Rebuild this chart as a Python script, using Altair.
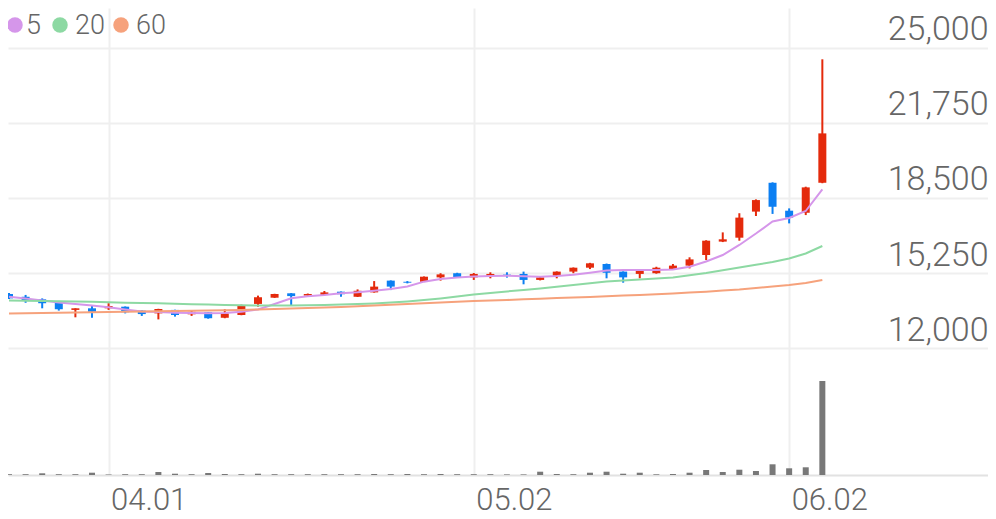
import altair as alt
import pandas as pd

# ---- data ----
opens = [14340, 14220, 14110, 14010, 13650, 13720, 13720, 13790, 13620, 13500,
         13650, 13460, 13550, 13310, 13430, 13910, 14180, 14370, 14270, 14300,
         14440, 14220, 14410, 14920, 14870, 14870, 15060, 15240, 15060, 15120,
         15180, 15210, 14950, 15130, 15310, 15480, 15640, 15310, 15210, 15240,
         15420, 15570, 16030, 16610, 16780, 17910, 19160, 17950, 17860, 19160]
highs = [14380, 14300, 14150, 14040, 13720, 13820, 13940, 13800, 13630, 13700,
         13660, 13620, 13560, 13680, 13880, 14270, 14350, 14380, 14360, 14470,
         14450, 14540, 14900, 14930, 14900, 15100, 15240, 15260, 15250, 15280,
         15280, 15310, 15080, 15320, 15490, 15690, 15660, 15320, 15400, 15520,
         15640, 15930, 16670, 17010, 17840, 18440, 19180, 18050, 18990, 24510]
lows = [14120, 13960, 13720, 13620, 13330, 13310, 13650, 13500, 13390, 13240,
        13360, 13390, 13270, 13290, 13420, 13790, 14170, 13860, 14250, 14290,
        14220, 14210, 14400, 14510, 14800, 14860, 14920, 15050, 14950, 15020,
        15050, 14760, 14930, 15020, 15240, 15420, 15020, 14830, 15020, 15220,
        15410, 15450, 15810, 16590, 16650, 17720, 17810, 17400, 17760, 19140]
closes = [14150, 14080, 13940, 13680, 13720, 13570, 13820, 13550, 13470, 13690,
          13430, 13570, 13290, 13500, 13860, 14200, 14340, 14250, 14340, 14410,
          14330, 14480, 14660, 14660, 14830, 15090, 15190, 15060, 15210, 15210,
          15150, 14950, 15060, 15310, 15480, 15670, 15260, 15060, 15380, 15480,
          15570, 15840, 16650, 16710, 17650, 18410, 18120, 17650, 18960, 21300]
volumes = [80, 80, 170, 80, 80, 230, 50, 80, 80, 300,
           130, 80, 200, 100, 80, 130, 80, 80, 80, 80,
           80, 80, 100, 80, 100, 80, 100, 80, 80, 80,
           60, 60, 330, 100, 80, 230, 330, 130, 230, 70,
           100, 230, 500, 300, 530, 400, 1070, 670, 770, 9400]
ma5 = [14220, 14145, 14060, 13970, 13905, 13840, 13765, 13670, 13580, 13560,
       13530, 13515, 13505, 13515, 13575, 13670, 13905, 14155, 14240, 14295,
       14370, 14415, 14485, 14555, 14665, 14875, 14990, 15055, 15100, 15120,
       15135, 15105, 15090, 15120, 15175, 15265, 15360, 15380, 15380, 15380,
       15400, 15525, 15750, 16030, 16465, 16960, 17480, 17635, 17935, 18870]
ma20 = [14060, 14050, 14035, 14025, 14015, 14000, 13980, 13965, 13950, 13935,
        13920, 13900, 13885, 13865, 13850, 13840, 13840, 13845, 13850, 13865,
        13885, 13905, 13930, 13970, 14015, 14075, 14145, 14230, 14320, 14385,
        14450, 14515, 14580, 14655, 14730, 14805, 14880, 14925, 14970, 15010,
        15055, 15150, 15250, 15370, 15490, 15610, 15725, 15880, 16095, 16420]
ma60 = [13495, 13505, 13515, 13530, 13540, 13550, 13560, 13570, 13580, 13595,
        13605, 13615, 13625, 13635, 13645, 13670, 13690, 13710, 13735, 13755,
        13775, 13805, 13840, 13870, 13905, 13935, 13970, 14000, 14035, 14060,
        14080, 14110, 14135, 14165, 14190, 14215, 14240, 14270, 14295, 14330,
        14360, 14400, 14440, 14490, 14535, 14600, 14665, 14730, 14815, 14945]
ma_names = ["5", "20", "60"]
ma_colors = ["#d596ea", "#8dd9a3", "#f6a27c"]
tick_idx = [6, 28, 47]
tick_labels = ["04.01", "05.02", "06.02"]
y_ticks = [12000, 15250, 18500, 21750, 25000]

RED = "#e42a0c"
BLUE = "#0c7ff2"
VOL = "#787878"
GRID = "#efefef"
TXT = "#666666"

n = len(closes)
df = pd.DataFrame({"i": list(range(n)), "open": opens, "high": highs,
                   "low": lows, "close": closes, "volume": volumes})
ma_df = pd.concat([
    pd.DataFrame({"i": list(range(n)), "ma": name, "value": vals})
    for name, vals in zip(ma_names, [ma5, ma20, ma60])
], ignore_index=True)

label_expr = " : ".join(
    f"datum.value == {v} ? '{t}'" for v, t in zip(tick_idx, tick_labels)
) + " : ''"

x_enc = alt.X(
    "i:Q",
    scale=alt.Scale(domain=[-0.06, 58.98], nice=False, zero=False, padding=0),
    axis=alt.Axis(values=tick_idx, labelExpr=label_expr, grid=True,
                  gridColor=GRID, gridWidth=2, ticks=False,
                  domainColor="#e2e2e2", domainWidth=2,
                  labelAlign="left", labelBaseline="top", labelPadding=10,
                  labelOffset=2, labelFontSize=31, labelColor=TXT,
                  labelFont="Roboto", labelFontWeight=300, labelFlush=False,
                  labelOverlap=False, title=None),
)

price_scale = alt.Scale(domain=[6497, 26733], nice=False, zero=False)
y_axis = alt.Axis(orient="right", values=y_ticks, format=",d", grid=True,
                  gridColor=GRID, gridWidth=2, ticks=False, domain=False,
                  labelAlign="right", labelBaseline="alphabetic",
                  labelPadding=0, labelOffset=-8, labelFontSize=34,
                  labelColor=TXT, labelFont="Roboto", labelFontWeight=300,
                  title=None)

candle_color = alt.condition("datum.close >= datum.open",
                             alt.value(RED), alt.value(BLUE))

base = alt.Chart(df).encode(x=x_enc)

wick = base.mark_rule(strokeWidth=2).encode(
    y=alt.Y("low:Q", scale=price_scale, axis=y_axis),
    y2="high:Q",
    color=candle_color,
)
body = base.mark_bar(size=8).encode(
    y=alt.Y("open:Q", scale=price_scale, axis=y_axis),
    y2="close:Q",
    color=candle_color,
)
lines = alt.Chart(ma_df).mark_line(strokeWidth=2).encode(
    x=x_enc,
    y=alt.Y("value:Q", scale=price_scale, axis=y_axis),
    stroke=alt.Stroke("ma:N", scale=alt.Scale(domain=ma_names, range=ma_colors),
                      sort=ma_names, legend=None),
)

price = alt.layer(body, wick, lines)

volume = alt.Chart(df).mark_bar(size=6, color=VOL).encode(
    x=x_enc,
    y=alt.Y("volume:Q", scale=alt.Scale(domain=[0, 46700], nice=False), axis=None),
)

# legend (top-left): one dot and one label per moving average
legend_dot_x = [7, 52, 113]
legend_text_x = [18, 67, 128]
legend_layers = []
for name, col, dx, tx in zip(ma_names, ma_colors, legend_dot_x, legend_text_x):
    legend_layers.append(
        alt.Chart(pd.DataFrame({"t": [name]})).mark_circle(size=240, opacity=1, color=col)
        .encode(x=alt.value(dx), y=alt.value(17))
    )
    legend_layers.append(
        alt.Chart(pd.DataFrame({"t": [name]})).mark_text(
            align="left", baseline="middle", fontSize=27, font="Roboto",
            fontWeight=300, color=TXT).encode(x=alt.value(tx), y=alt.value(18), text="t:N")
    )

chart = alt.layer(volume, price, *legend_layers).resolve_scale(y="independent").properties(
    width=980, height=467,
    padding={"left": 0, "top": 0, "right": 0, "bottom": 45},
    autosize=alt.AutoSizeParams(type="none"),
).configure_view(strokeWidth=0)

chart.save("out.html", embed_options={"renderer": "svg", "actions": False})
